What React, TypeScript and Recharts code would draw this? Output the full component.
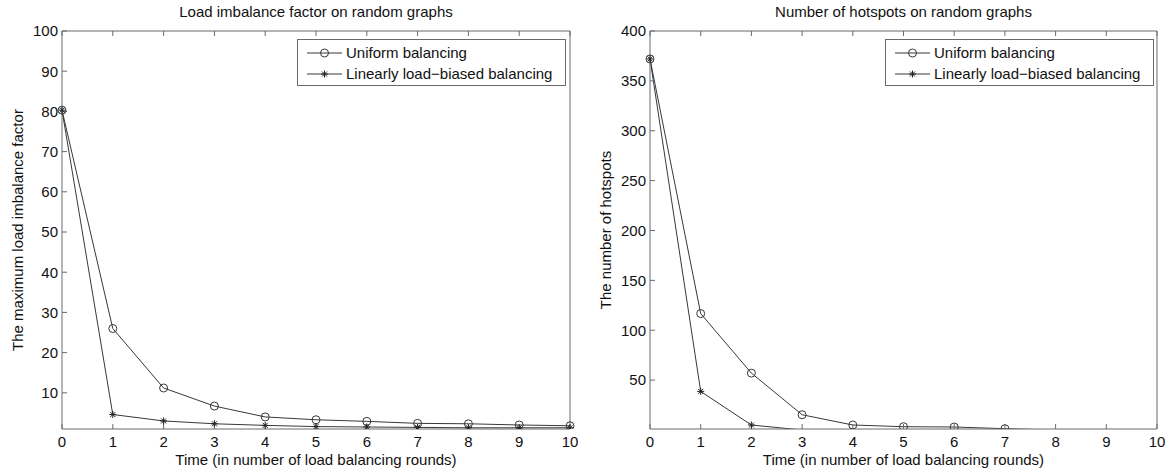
import React from 'react';
import { LineChart, Line, XAxis, YAxis } from 'recharts';

const rounds = [0, 1, 2, 3, 4, 5, 6, 7, 8, 9, 10];
const uniformImbalance = [80.3, 26, 11.2, 6.7, 4.0, 3.3, 2.9, 2.4, 2.3, 2.0, 1.8];
const biasedImbalance = [80.3, 4.6, 3.0, 2.3, 1.9, 1.6, 1.5, 1.4, 1.3, 1.3, 1.3];
const uniformHotspots = [372, 116.7, 57, 15.3, 5, 3.3, 3, 1.3, 0, 0, 0];
const biasedHotspots = [372, 38.7, 5, 0, 0, 0, 0, 0, 0, 0, 0];

const imbalanceTicks = [10, 20, 30, 40, 50, 60, 70, 80, 90, 100];
const hotspotTicks = [50, 100, 150, 200, 250, 300, 350, 400];
const seriesNames = ['Uniform balancing', 'Linearly load\u2212biased balancing'];

const FONT = '"Liberation Sans", Arial, Helvetica, sans-serif';
const AXIS = '#6a6a6a';
const INK = '#383838';
const Y_MIN = 1;

const imbalanceData = rounds.map((r, i) => ({ r, uniform: uniformImbalance[i], biased: biasedImbalance[i] }));
const hotspotData = rounds.map((r, i) => ({ r, uniform: uniformHotspots[i], biased: biasedHotspots[i] }));

function CircleMark({ cx, cy }: any) {
  if (cx == null || cy == null) return null;
  return <circle cx={cx} cy={cy} r={4} fill="none" stroke={INK} strokeWidth={1} />;
}

function StarMark({ cx, cy }: any) {
  if (cx == null || cy == null) return null;
  const s = 3.5;
  const d = 2.5;
  return (
    <g stroke="#222" strokeWidth={1}>
      <line x1={cx - s} x2={cx + s} y1={cy} y2={cy} />
      <line x1={cx} x2={cx} y1={cy - s} y2={cy + s} />
      <line x1={cx - d} x2={cx + d} y1={cy - d} y2={cy + d} />
      <line x1={cx - d} x2={cx + d} y1={cy + d} y2={cy - d} />
    </g>
  );
}

// markers below the axis range are clipped away, as in the original figure
function visible(p: any) {
  const v = Array.isArray(p.value) ? p.value[1] : p.value;
  return v != null && v >= Y_MIN;
}

function LegendBox({ left, top }: { left: number; top: number }) {
  const row = (name: string, star: boolean) => (
    <div style={{ display: 'flex', alignItems: 'center', height: 21 }}>
      <svg width={40} height={12} style={{ marginLeft: 8 }}>
        <line x1={1} x2={36} y1={6} y2={6} stroke={INK} strokeWidth={1} />
        {star ? <StarMark cx={18.5} cy={6} /> : <CircleMark cx={18.5} cy={6} />}
      </svg>
      <span style={{ fontSize: 15, color: '#111', whiteSpace: 'nowrap' }}>{name}</span>
    </div>
  );
  return (
    <div
      style={{
        position: 'absolute',
        left,
        top,
        border: `1px solid ${AXIS}`,
        background: '#fff',
        width: 267,
        height: 43,
        paddingTop: 2,
        fontFamily: FONT,
        boxSizing: 'content-box',
      }}
    >
      {row(seriesNames[0], false)}
      {row(seriesNames[1], true)}
    </div>
  );
}

interface PanelProps {
  data: any[];
  title: string;
  yLabel: string;
  yTicks: number[];
  yMax: number;
  left: number;
  plotLeft: number;
  plotRight: number;
}

function Panel({ data, title, yLabel, yTicks, yMax, left, plotLeft, plotRight }: PanelProps) {
  const W = 584;
  const H = 472;
  const plotTop = 31;
  const plotBottom = 429;
  const cx = (plotLeft + plotRight) / 2;
  const tickStyle = { fontSize: 15, fill: '#111', fontFamily: FONT };
  // axis boxes: bottom 30, top 10, left 40, right 10
  const margin = {
    top: plotTop - 10,
    bottom: H - plotBottom - 30,
    left: plotLeft - 40,
    right: W - plotRight - 10,
  };
  return (
    <div style={{ position: 'absolute', left, top: 0, width: W, height: H }}>
      <LineChart width={W} height={H} data={data} margin={margin}>
        <XAxis
          dataKey="r"
          type="number"
          domain={[0, 10]}
          ticks={rounds}
          height={30}
          tickSize={-5}
          tickMargin={12}
          stroke={AXIS}
          tick={tickStyle}
          interval={0}
        />
        <XAxis
          xAxisId="top"
          orientation="top"
          dataKey="r"
          type="number"
          domain={[0, 10]}
          ticks={rounds}
          height={10}
          tickSize={-5}
          tickFormatter={() => ''}
          stroke={AXIS}
          interval={0}
        />
        <YAxis
          type="number"
          domain={[Y_MIN, yMax]}
          ticks={yTicks}
          width={40}
          tickSize={-5}
          tickMargin={9}
          stroke={AXIS}
          tick={tickStyle}
          allowDataOverflow
          interval={0}
        />
        <YAxis
          yAxisId="right"
          orientation="right"
          type="number"
          domain={[Y_MIN, yMax]}
          ticks={yTicks}
          width={10}
          tickSize={-5}
          tickFormatter={() => ''}
          stroke={AXIS}
          interval={0}
        />
        <Line
          dataKey="uniform"
          name={seriesNames[0]}
          stroke={INK}
          strokeWidth={1}
          dot={(p: any) => (visible(p) ? <CircleMark key={`c${p.index}`} {...p} /> : <g key={`c${p.index}`} />)}
          activeDot={false}
          isAnimationActive={false}
        />
        <Line
          dataKey="biased"
          name={seriesNames[1]}
          stroke={INK}
          strokeWidth={1}
          dot={(p: any) => (visible(p) ? <StarMark key={`s${p.index}`} {...p} /> : <g key={`s${p.index}`} />)}
          activeDot={false}
          isAnimationActive={false}
        />
      </LineChart>
      <LegendBox left={plotLeft + 235} top={39} />
      <div
        style={{
          position: 'absolute',
          left: cx - 250,
          width: 500,
          top: 3,
          textAlign: 'center',
          fontSize: 15,
          fontFamily: FONT,
          color: '#111',
        }}
      >
        {title}
      </div>
      <div
        style={{
          position: 'absolute',
          left: cx - 250,
          width: 500,
          top: 451,
          textAlign: 'center',
          fontSize: 15,
          lineHeight: '17px',
          fontFamily: FONT,
          color: '#111',
        }}
      >
        Time (in number of load balancing rounds)
      </div>
      <div
        style={{
          position: 'absolute',
          left: plotLeft - 44 - 200,
          top: (plotTop + plotBottom) / 2 - 10,
          width: 400,
          height: 20,
          lineHeight: '20px',
          textAlign: 'center',
          fontSize: 15,
          fontFamily: FONT,
          color: '#111',
          transform: 'rotate(-90deg)',
        }}
      >
        {yLabel}
      </div>
    </div>
  );
}

export default function App() {
  return (
    <div style={{ position: 'absolute', left: 0, top: 0, width: 1168, height: 472, background: '#fff' }}>
      <Panel
        data={imbalanceData}
        title="Load imbalance factor on random graphs"
        yLabel="The maximum load imbalance factor"
        yTicks={imbalanceTicks}
        yMax={100}
        left={0}
        plotLeft={62}
        plotRight={570}
      />
      <Panel
        data={hotspotData}
        title="Number of hotspots on random graphs"
        yLabel="The number of hotspots"
        yTicks={hotspotTicks}
        yMax={400}
        left={584}
        plotLeft={66}
        plotRight={573}
      />
    </div>
  );
}
